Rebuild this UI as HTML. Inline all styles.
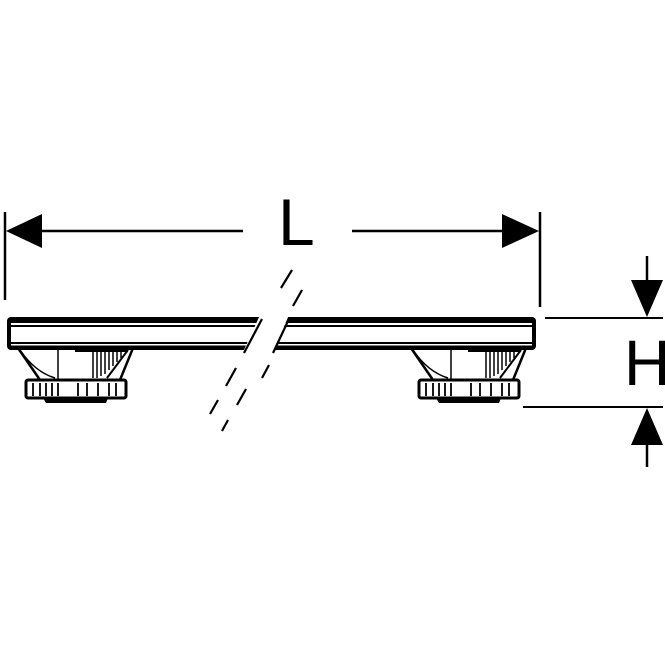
<!DOCTYPE html>
<html><head><style>html,body{margin:0;padding:0;background:#fff}svg{display:block}</style></head>
<body>
<svg width="665" height="665" viewBox="0 0 665 665" xmlns="http://www.w3.org/2000/svg">
<g stroke="#000" fill="none">
<!-- L dimension -->
<line x1="5" y1="212" x2="5" y2="300" stroke-width="2.5"/>
<line x1="540" y1="212" x2="540" y2="307" stroke-width="2.5"/>
<line x1="40" y1="231" x2="243" y2="231" stroke-width="2.5"/>
<line x1="352" y1="231" x2="502" y2="231" stroke-width="2.5"/>
<!-- H dimension -->
<line x1="545" y1="318" x2="663" y2="318" stroke-width="2"/>
<line x1="523" y1="407" x2="663" y2="407" stroke-width="2"/>
<line x1="647" y1="256" x2="647" y2="282" stroke-width="2.5"/>
<line x1="647" y1="444" x2="647" y2="467" stroke-width="2.5"/>
</g>
<g fill="#000">
<polygon points="6,231 42,214 42,248"/>
<polygon points="539,231 502,214 502,248"/>
<polygon points="647,317 631,280 663,280"/>
<polygon points="647,408 631,445 663,445"/>
</g>
<text x="278" y="245" font-family="Liberation Sans, sans-serif" font-size="66" fill="#000">L</text>
<text x="624" y="385" font-family="Liberation Sans, sans-serif" font-size="64" fill="#000">H</text>

<!-- feet -->
<g id="foot" stroke="#000" fill="#fff">
<path d="M18,348 L40,380 L120,380 L133,348 Z" stroke-width="2.5"/>
<path d="M20,350 Q35,372 55,378" fill="none" stroke-width="1.5"/>
<line x1="58" y1="350" x2="58" y2="380" stroke-width="1.5"/>
<rect x="75" y="348" width="52" height="4" fill="#000" stroke="none"/>
<g stroke-width="1.5">
<line x1="93" y1="350" x2="93" y2="378"/><line x1="97" y1="350" x2="97" y2="378"/><line x1="101" y1="350" x2="101" y2="376"/><line x1="105" y1="350" x2="105" y2="374"/><line x1="109" y1="350" x2="109" y2="370"/><line x1="113" y1="350" x2="113" y2="366"/><line x1="117" y1="350" x2="117" y2="362"/><line x1="121" y1="350" x2="121" y2="358"/>
</g>
<path d="M107,378 L128,350" fill="none" stroke-width="2"/>
<rect x="26" y="380" width="100" height="18" rx="2" stroke-width="3"/>
<g stroke-width="1.8">
<line x1="33" y1="383" x2="33" y2="396"/><line x1="40" y1="383" x2="40" y2="396"/><line x1="46" y1="383" x2="46" y2="396"/><line x1="52" y1="383" x2="52" y2="396"/><line x1="58" y1="383" x2="58" y2="396"/><line x1="78" y1="383" x2="78" y2="396"/><line x1="87" y1="383" x2="87" y2="396"/><line x1="98" y1="383" x2="98" y2="396"/><line x1="109" y1="383" x2="109" y2="396"/><line x1="116" y1="383" x2="116" y2="396"/>
</g>
<path d="M43,398 L108,398 L106,403 L46,403 Z" fill="#000" stroke="none"/>
</g>
<use href="#foot" transform="translate(393,0)"/>

<!-- bar -->
<g>
<rect x="7" y="317" width="529" height="33" rx="4" fill="#000"/>
<rect x="11" y="323" width="521" height="2" fill="#fff"/>
<rect x="11" y="327" width="521" height="15" fill="#fff"/>
<rect x="11" y="344" width="521" height="1.5" fill="#fff"/>
<!-- break gap -->
<polygon points="260,315 289,315 273,352 243,352" fill="#fff"/>
</g>
<g stroke="#000" stroke-width="2.2" fill="none">
<line x1="262" y1="319" x2="244" y2="353"/>
<line x1="289" y1="319" x2="273" y2="353"/>
<line x1="292" y1="270" x2="281" y2="288" />
<line x1="302" y1="290" x2="293" y2="306"/>
<line x1="236" y1="368" x2="226" y2="386"/>
<line x1="218" y1="400" x2="210" y2="414"/>
<line x1="269" y1="365" x2="262" y2="378"/>
<line x1="246" y1="389" x2="237" y2="405"/>
<line x1="228" y1="420" x2="222" y2="431"/>
</g>
</svg>
</body></html>
